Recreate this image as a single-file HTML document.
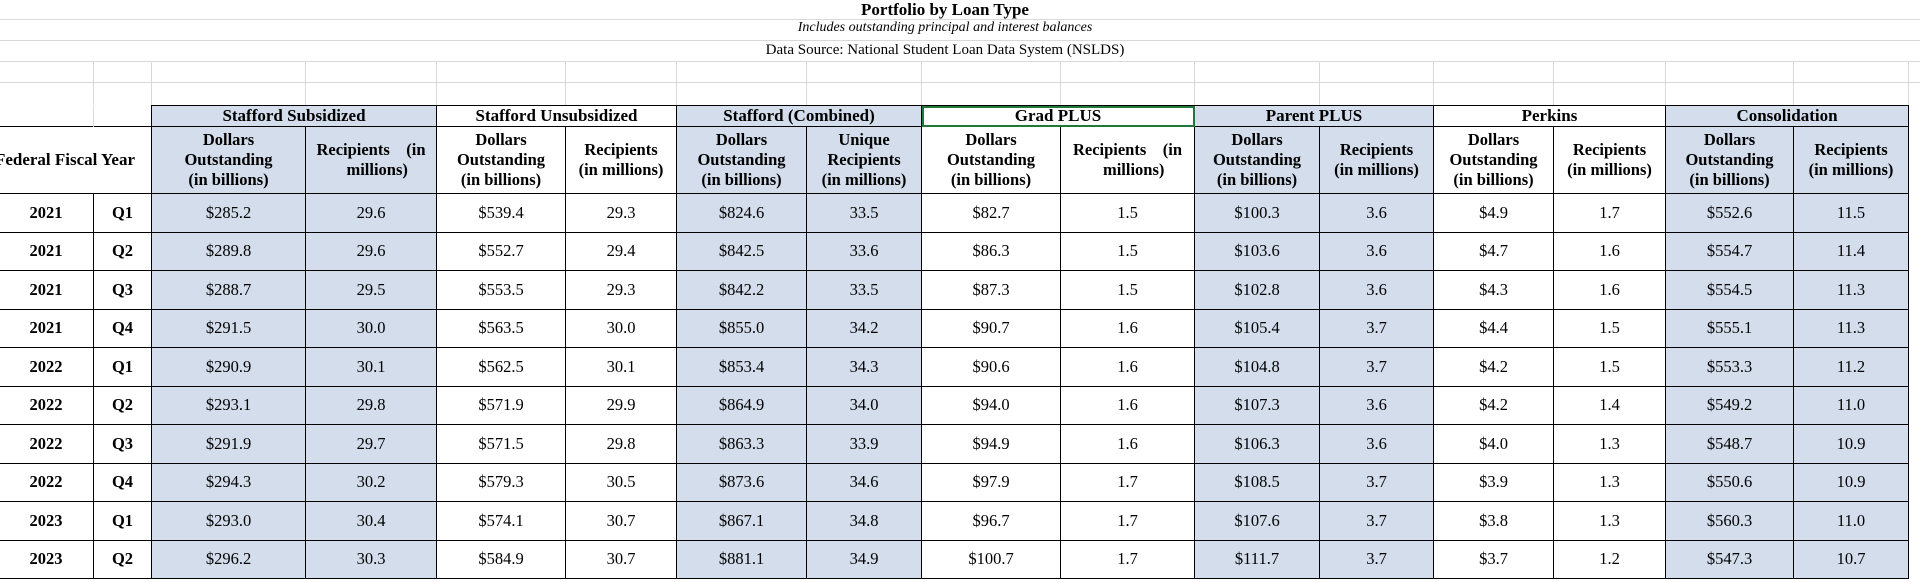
<!DOCTYPE html>
<html><head><meta charset="utf-8"><style>
body{margin:0;width:1920px;height:582px;overflow:hidden;background:#fff;font-family:"Liberation Serif",serif;position:relative}
.t{position:absolute;left:0;width:1890px;text-align:center;color:#000}
.g{position:absolute;left:0;width:1920px;height:1px;background:#d9d9d9}
.v{position:absolute;width:1px;background:#d9d9d9;top:61px;height:44px}
table{position:absolute;left:-2px;top:105px;border-collapse:collapse;table-layout:fixed}
td{border:1.5px solid #000;text-align:center;padding:0;font-size:16.5px;line-height:20px}
.h1 td{height:20px;font-weight:bold;font-size:17px}
.h2 td{height:66px;font-weight:bold;font-size:16.5px}
.d td{height:37.5px}
.b{background:#d3ddec}
.yr{font-weight:bold}
.gp{outline:2px solid #1f7a3a;outline-offset:-2px}
</style></head><body>
<div class="t" style="top:0;font-weight:bold;font-size:17px">Portfolio by Loan Type</div>
<div class="t" style="top:20px;font-style:italic;font-size:14px">Includes outstanding principal and interest balances</div>
<div class="t" style="top:42px;font-size:15px">Data Source: National Student Loan Data System (NSLDS)</div>
<div class="g" style="top:19px"></div><div class="g" style="top:40px"></div><div class="g" style="top:61px"></div><div class="g" style="top:82px"></div>
<div class="v" style="left:93px"></div><div class="v" style="left:151px"></div><div class="v" style="left:305px"></div><div class="v" style="left:436px"></div><div class="v" style="left:565px"></div><div class="v" style="left:676px"></div><div class="v" style="left:806px"></div><div class="v" style="left:921px"></div><div class="v" style="left:1060px"></div><div class="v" style="left:1194px"></div><div class="v" style="left:1319px"></div><div class="v" style="left:1433px"></div><div class="v" style="left:1553px"></div><div class="v" style="left:1665px"></div><div class="v" style="left:1793px"></div><div class="v" style="left:1908px"></div>
<table>
<colgroup><col style="width:95px"><col style="width:58px"><col style="width:154px"><col style="width:131px"><col style="width:129px"><col style="width:111px"><col style="width:130px"><col style="width:115px"><col style="width:139px"><col style="width:134px"><col style="width:125px"><col style="width:114px"><col style="width:120px"><col style="width:112px"><col style="width:128px"><col style="width:115px"></colgroup>
<tr class="h1"><td style="border:none;border-right:1px solid #d9d9d9"></td><td style="border-top:none;border-left:none;border-color:#d9d9d9 #000 #000 #d9d9d9"></td><td colspan="2" class="b">Stafford Subsidized</td><td colspan="2">Stafford Unsubsidized</td><td colspan="2" class="b">Stafford (Combined)</td><td colspan="2" class="gp">Grad PLUS</td><td colspan="2" class="b">Parent PLUS</td><td colspan="2">Perkins</td><td colspan="2" class="b">Consolidation</td></tr>
<tr class="h2"><td colspan="2" style="position:relative;overflow:hidden"><div style="position:absolute;right:16px;top:23px;white-space:nowrap;font-size:17px">Federal Fiscal Year</div></td>
<td class="b">Dollars<br>Outstanding<br>(in billions)</td><td class="b">Recipients &nbsp;&nbsp;&nbsp;(in<br>&nbsp;&nbsp;&nbsp;millions)</td>
<td>Dollars<br>Outstanding<br>(in billions)</td><td>Recipients<br>(in millions)</td>
<td class="b">Dollars<br>Outstanding<br>(in billions)</td><td class="b">Unique<br>Recipients<br>(in millions)</td>
<td>Dollars<br>Outstanding<br>(in billions)</td><td>Recipients &nbsp;&nbsp;&nbsp;(in<br>&nbsp;&nbsp;&nbsp;millions)</td>
<td class="b">Dollars<br>Outstanding<br>(in billions)</td><td class="b">Recipients<br>(in millions)</td>
<td>Dollars<br>Outstanding<br>(in billions)</td><td>Recipients<br>(in millions)</td>
<td class="b">Dollars<br>Outstanding<br>(in billions)</td><td class="b">Recipients<br>(in millions)</td></tr>
<tr class="d"><td class="yr">2021</td><td class="yr">Q1</td><td class="b">$285.2</td><td class="b">29.6</td><td>$539.4</td><td>29.3</td><td class="b">$824.6</td><td class="b">33.5</td><td>$82.7</td><td>1.5</td><td class="b">$100.3</td><td class="b">3.6</td><td>$4.9</td><td>1.7</td><td class="b">$552.6</td><td class="b">11.5</td></tr>
<tr class="d"><td class="yr">2021</td><td class="yr">Q2</td><td class="b">$289.8</td><td class="b">29.6</td><td>$552.7</td><td>29.4</td><td class="b">$842.5</td><td class="b">33.6</td><td>$86.3</td><td>1.5</td><td class="b">$103.6</td><td class="b">3.6</td><td>$4.7</td><td>1.6</td><td class="b">$554.7</td><td class="b">11.4</td></tr>
<tr class="d"><td class="yr">2021</td><td class="yr">Q3</td><td class="b">$288.7</td><td class="b">29.5</td><td>$553.5</td><td>29.3</td><td class="b">$842.2</td><td class="b">33.5</td><td>$87.3</td><td>1.5</td><td class="b">$102.8</td><td class="b">3.6</td><td>$4.3</td><td>1.6</td><td class="b">$554.5</td><td class="b">11.3</td></tr>
<tr class="d"><td class="yr">2021</td><td class="yr">Q4</td><td class="b">$291.5</td><td class="b">30.0</td><td>$563.5</td><td>30.0</td><td class="b">$855.0</td><td class="b">34.2</td><td>$90.7</td><td>1.6</td><td class="b">$105.4</td><td class="b">3.7</td><td>$4.4</td><td>1.5</td><td class="b">$555.1</td><td class="b">11.3</td></tr>
<tr class="d"><td class="yr">2022</td><td class="yr">Q1</td><td class="b">$290.9</td><td class="b">30.1</td><td>$562.5</td><td>30.1</td><td class="b">$853.4</td><td class="b">34.3</td><td>$90.6</td><td>1.6</td><td class="b">$104.8</td><td class="b">3.7</td><td>$4.2</td><td>1.5</td><td class="b">$553.3</td><td class="b">11.2</td></tr>
<tr class="d"><td class="yr">2022</td><td class="yr">Q2</td><td class="b">$293.1</td><td class="b">29.8</td><td>$571.9</td><td>29.9</td><td class="b">$864.9</td><td class="b">34.0</td><td>$94.0</td><td>1.6</td><td class="b">$107.3</td><td class="b">3.6</td><td>$4.2</td><td>1.4</td><td class="b">$549.2</td><td class="b">11.0</td></tr>
<tr class="d"><td class="yr">2022</td><td class="yr">Q3</td><td class="b">$291.9</td><td class="b">29.7</td><td>$571.5</td><td>29.8</td><td class="b">$863.3</td><td class="b">33.9</td><td>$94.9</td><td>1.6</td><td class="b">$106.3</td><td class="b">3.6</td><td>$4.0</td><td>1.3</td><td class="b">$548.7</td><td class="b">10.9</td></tr>
<tr class="d"><td class="yr">2022</td><td class="yr">Q4</td><td class="b">$294.3</td><td class="b">30.2</td><td>$579.3</td><td>30.5</td><td class="b">$873.6</td><td class="b">34.6</td><td>$97.9</td><td>1.7</td><td class="b">$108.5</td><td class="b">3.7</td><td>$3.9</td><td>1.3</td><td class="b">$550.6</td><td class="b">10.9</td></tr>
<tr class="d"><td class="yr">2023</td><td class="yr">Q1</td><td class="b">$293.0</td><td class="b">30.4</td><td>$574.1</td><td>30.7</td><td class="b">$867.1</td><td class="b">34.8</td><td>$96.7</td><td>1.7</td><td class="b">$107.6</td><td class="b">3.7</td><td>$3.8</td><td>1.3</td><td class="b">$560.3</td><td class="b">11.0</td></tr>
<tr class="d"><td class="yr">2023</td><td class="yr">Q2</td><td class="b">$296.2</td><td class="b">30.3</td><td>$584.9</td><td>30.7</td><td class="b">$881.1</td><td class="b">34.9</td><td>$100.7</td><td>1.7</td><td class="b">$111.7</td><td class="b">3.7</td><td>$3.7</td><td>1.2</td><td class="b">$547.3</td><td class="b">10.7</td></tr>
</table>
</body></html>
